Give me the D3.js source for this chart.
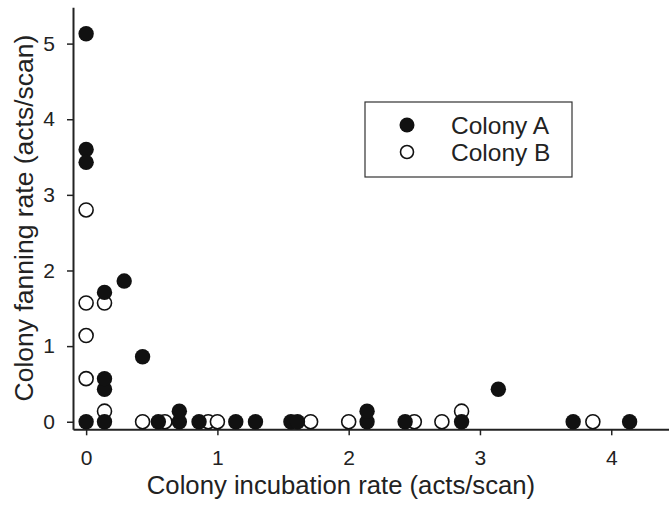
<!DOCTYPE html>
<html>
<head>
<meta charset="utf-8">
<script src="https://cdn.jsdelivr.net/npm/d3@7"></script>
<style>
  body { margin: 0; background: #fff; }
  svg { display: block; font-family: "Liberation Sans", Arial, sans-serif; }
</style>
</head>
<body>
<div id="root"></div>
<script>
// Colony A (filled markers)
const colonyAx = [0, 0, 0, 0, 0.14, 0.14, 0.14, 0.14, 0.29, 0.43, 0.55, 0.71, 0.71, 0.86, 1.14, 1.29, 1.56, 1.61, 2.14, 2.14, 2.43, 2.86, 3.14, 3.71, 4.14];
const colonyAy = [5.13, 3.6, 3.43, 0, 0, 0.43, 0.57, 1.71, 1.86, 0.86, 0, 0, 0.14, 0, 0, 0, 0, 0, 0, 0.14, 0, 0, 0.43, 0, 0];
// Colony B (open markers)
const colonyBx = [0, 0, 0.14, 0, 0, 0.14, 0.43, 0.6, 0.93, 1.0, 1.71, 2.0, 2.5, 2.71, 2.86, 3.86];
const colonyBy = [2.8, 1.57, 1.57, 1.14, 0.57, 0.14, 0, 0, 0, 0, 0, 0, 0, 0, 0.14, 0];

const xTicks = [0, 1, 2, 3, 4];
const yTicks = [0, 1, 2, 3, 4, 5];
const seriesNames = ['Colony A', 'Colony B'];

const width = 669, height = 507;

const svg = d3.select('#root').append('svg')
              .attr('width', width)
              .attr('height', height);

const x = d3.scaleLinear().domain([-0.1, 4.44]).range([73, 669]);
const y = d3.scaleLinear().domain([-0.1, 5.48]).range([429.3, 7.3]);

const ptsA = colonyAx.map((v, i) => ({x: v, y: colonyAy[i]}));
const ptsB = colonyBx.map((v, i) => ({x: v, y: colonyBy[i]}));

// axes
const xAxis = svg.append('g')
   .attr('transform', `translate(0,${y.range()[0]})`)
   .call(d3.axisBottom(x).tickValues(xTicks).tickFormat(d3.format('d')).tickSize(6).tickSizeOuter(0).tickPadding(15));
const yAxis = svg.append('g')
   .attr('transform', `translate(${x.range()[0]},0)`)
   .call(d3.axisLeft(y).tickValues(yTicks).tickFormat(d3.format('d')).tickSize(6).tickSizeOuter(0).tickPadding(12));

[xAxis, yAxis].forEach(a => {
  a.select('.domain').attr('stroke', '#222').attr('stroke-width', 2);
  a.selectAll('.tick line').attr('stroke', '#222').attr('stroke-width', 1.5);
  a.selectAll('.tick text').attr('fill', '#222').style('font-size', '21px')
   .style('font-family', '"Liberation Sans", Arial, sans-serif');
});

svg.append('text')
   .text('Colony incubation rate (acts/scan)')
   .attr('x', 341)
   .attr('y', 494)
   .attr('text-anchor', 'middle')
   .attr('fill', '#222')
   .style('font-size', '25.7px');

svg.append('text')
   .text('Colony fanning rate (acts/scan)')
   .attr('transform', `translate(33,218) rotate(-90)`)
   .attr('text-anchor', 'middle')
   .attr('fill', '#222')
   .style('font-size', '26.5px');

// markers: open first, filled on top
svg.append('g').selectAll('circle')
   .data(ptsB).enter()
   .append('circle')
   .attr('cx', d => x(d.x))
   .attr('cy', d => y(d.y))
   .attr('r', 7)
   .attr('fill', '#fff')
   .attr('stroke', '#111')
   .attr('stroke-width', 1.6);

svg.append('g').selectAll('circle')
   .data(ptsA).enter()
   .append('circle')
   .attr('cx', d => x(d.x))
   .attr('cy', d => y(d.y))
   .attr('r', 7.7)
   .attr('fill', '#111');

// legend
const legend = svg.append('g').attr('transform', 'translate(365,102)');
legend.append('rect')
      .attr('width', 207)
      .attr('height', 75)
      .attr('fill', '#fff')
      .attr('stroke', '#333')
      .attr('stroke-width', 1.2);
const rows = legend.selectAll('g.row')
      .data(seriesNames).enter()
      .append('g')
      .attr('class', 'row')
      .attr('transform', (d, i) => `translate(0,${23 + i * 27})`);
rows.append('circle')
    .attr('cx', 42)
    .attr('r', (d, i) => i === 0 ? 7.5 : 6.5)
    .attr('fill', (d, i) => i === 0 ? '#111' : '#fff')
    .attr('stroke', '#111')
    .attr('stroke-width', (d, i) => i === 0 ? 0 : 1.6);
rows.append('text')
    .text(d => d)
    .attr('x', 86)
    .attr('y', 8.5)
    .attr('fill', '#222')
    .style('font-size', '24.5px');
</script>
</body>
</html>
